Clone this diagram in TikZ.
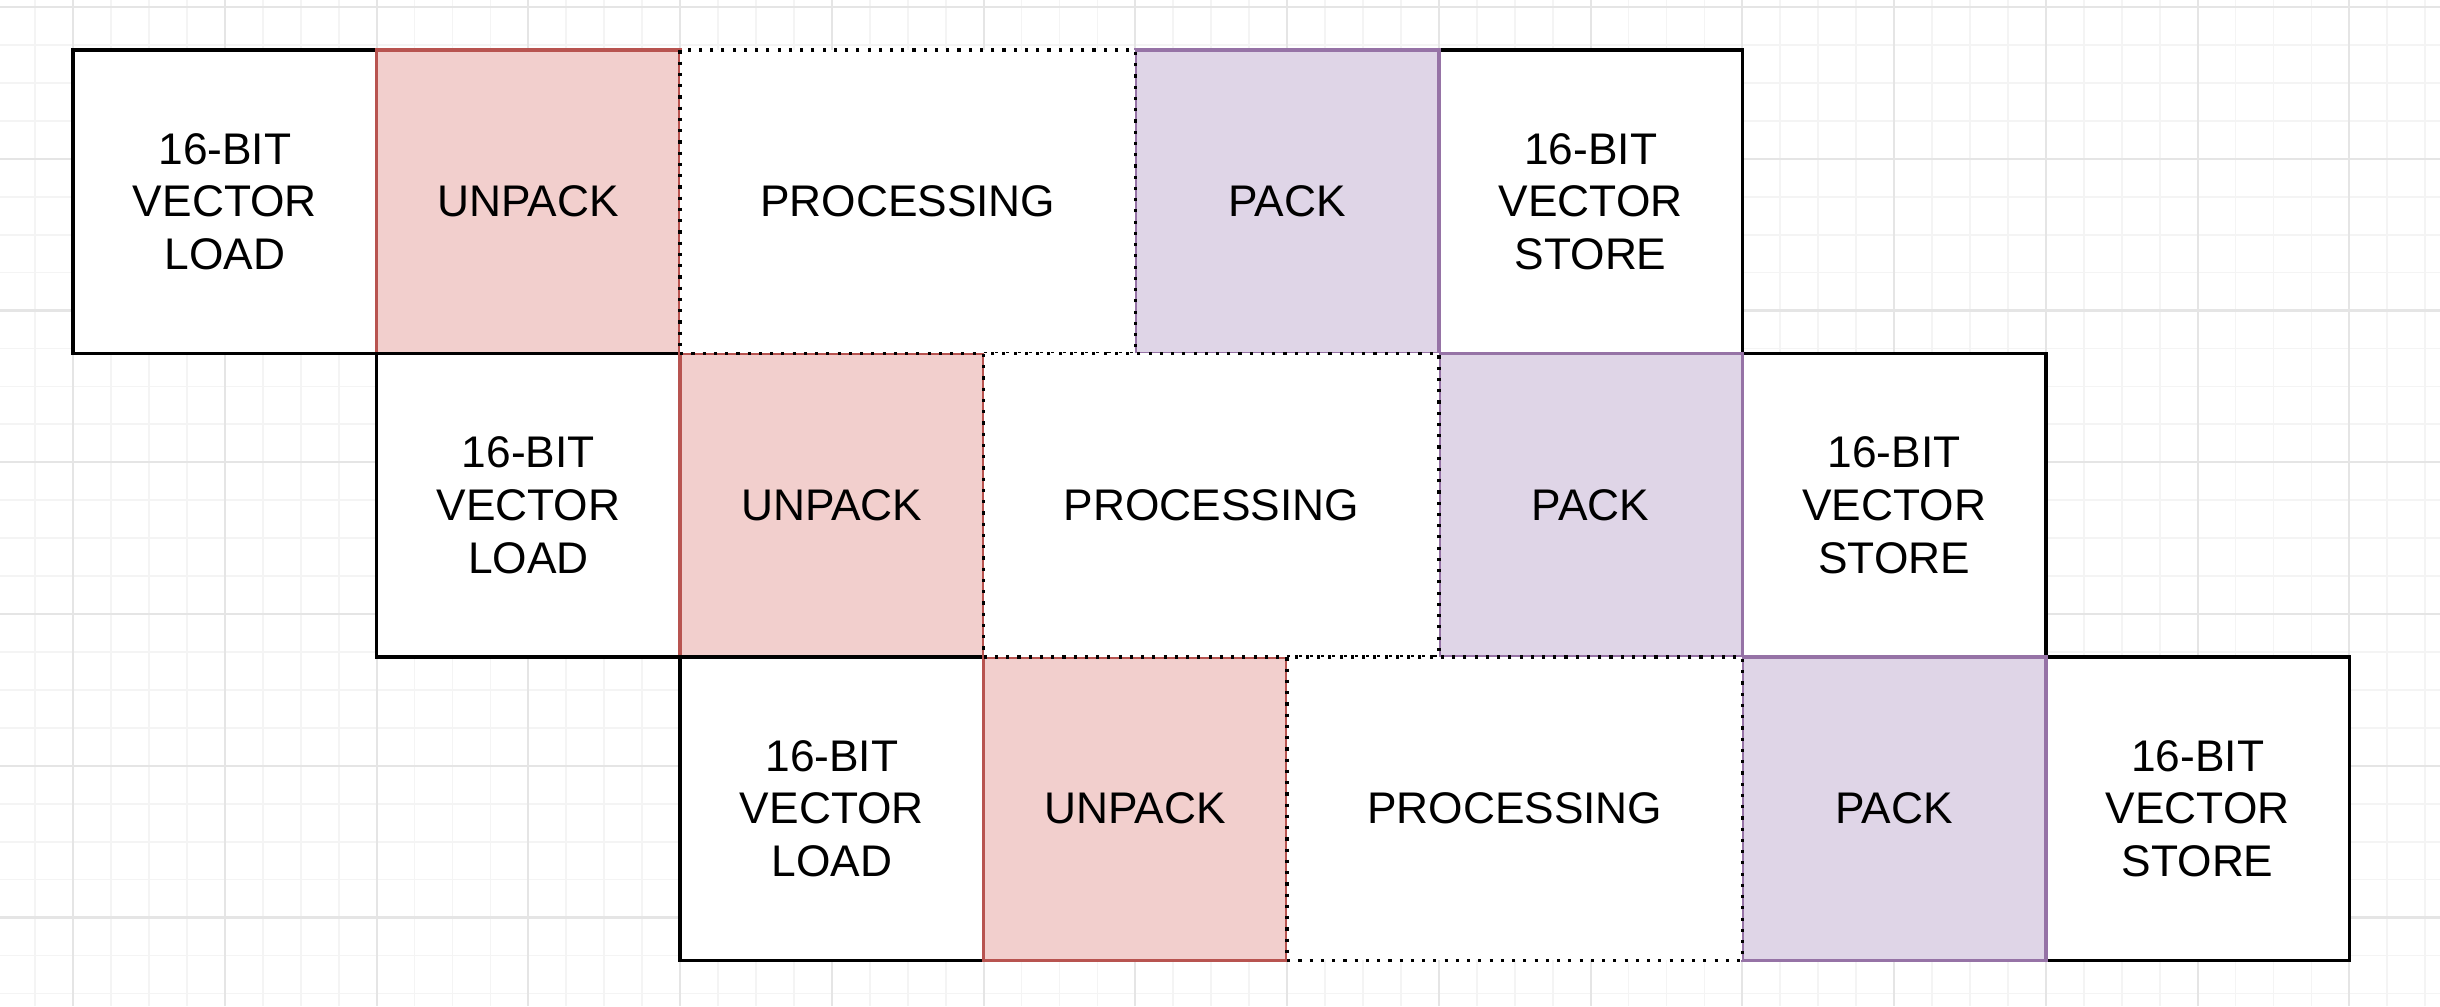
\documentclass[tikz,border=0pt]{standalone}
\usepackage{fontspec}
\setmainfont{Liberation Sans}
\definecolor{unpackfill}{HTML}{F2CFCD}
\definecolor{unpackline}{HTML}{B85450}
\definecolor{packfill}{HTML}{DFD5E7}
\definecolor{packline}{HTML}{9673A6}
\definecolor{majorgrid}{HTML}{E5E5E5}
\definecolor{minorgrid}{HTML}{F4F4F4}

\begin{document}
\begin{tikzpicture}[
    cell/.style={rectangle, minimum height=3.035cm, inner sep=0pt, line width=1pt,
        align=center, font=\fontsize{12.6}{15}\selectfont},
    ldst/.style={cell, draw=black, fill=white, minimum width=3.035cm},
    unpk/.style={cell, draw=unpackline, fill=unpackfill, minimum width=3.035cm},
    pk/.style={cell, draw=packline, fill=packfill, minimum width=3.035cm},
    proc/.style={cell, draw=black, fill=white, dash pattern=on 0.9pt off 2.3pt,
        minimum width=4.5525cm},
]
\useasboundingbox (0,0) rectangle (24.4,-10.06);
\fill[white] (0,0) rectangle (24.4,-10.06);
% grid behind
\foreach \m in {-1,...,62}
    \draw[minorgrid, line width=0.5pt] ({0.731+\m*0.379375},0) -- ({0.731+\m*0.379375},-10.06);
\foreach \m in {0,...,26}
    \draw[minorgrid, line width=0.5pt] (0,{-0.07-\m*0.379375}) -- (24.4,{-0.07-\m*0.379375});
\foreach \k in {0,...,15}
    \draw[majorgrid, line width=0.6pt] ({0.731+\k*1.5175},0) -- ({0.731+\k*1.5175},-10.06);
\foreach \k in {0,...,6}
    \draw[majorgrid, line width=0.6pt] (0,{-0.07-\k*1.5175}) -- (24.4,{-0.07-\k*1.5175});

% the three rows, each shifted by one step
\foreach \r in {1,2,3} {
    \pgfmathsetmacro{\xa}{0.731+(\r-1)*3.035}
    \pgfmathsetmacro{\ya}{-2.0155-(\r-1)*3.035}
    \node[ldst] (load\r) at (\xa+1.5175,\ya) {16-BIT\\VECTOR\\LOAD};
    \node[ldst] (store\r) at (\xa+15.175,\ya) {16-BIT\\VECTOR\\STORE};
    \node[unpk] (unpack\r) at (\xa+4.5525,\ya) {UNPACK};
    \node[pk] (pack\r) at (\xa+12.14,\ya) {PACK};
}
\foreach \r in {1,2,3} {
    \pgfmathsetmacro{\xa}{0.731+(\r-1)*3.035}
    \pgfmathsetmacro{\ya}{-2.0155-(\r-1)*3.035}
    \node[proc] (proc\r) at (\xa+8.34625,\ya) {PROCESSING};
}
\end{tikzpicture}
\end{document}
